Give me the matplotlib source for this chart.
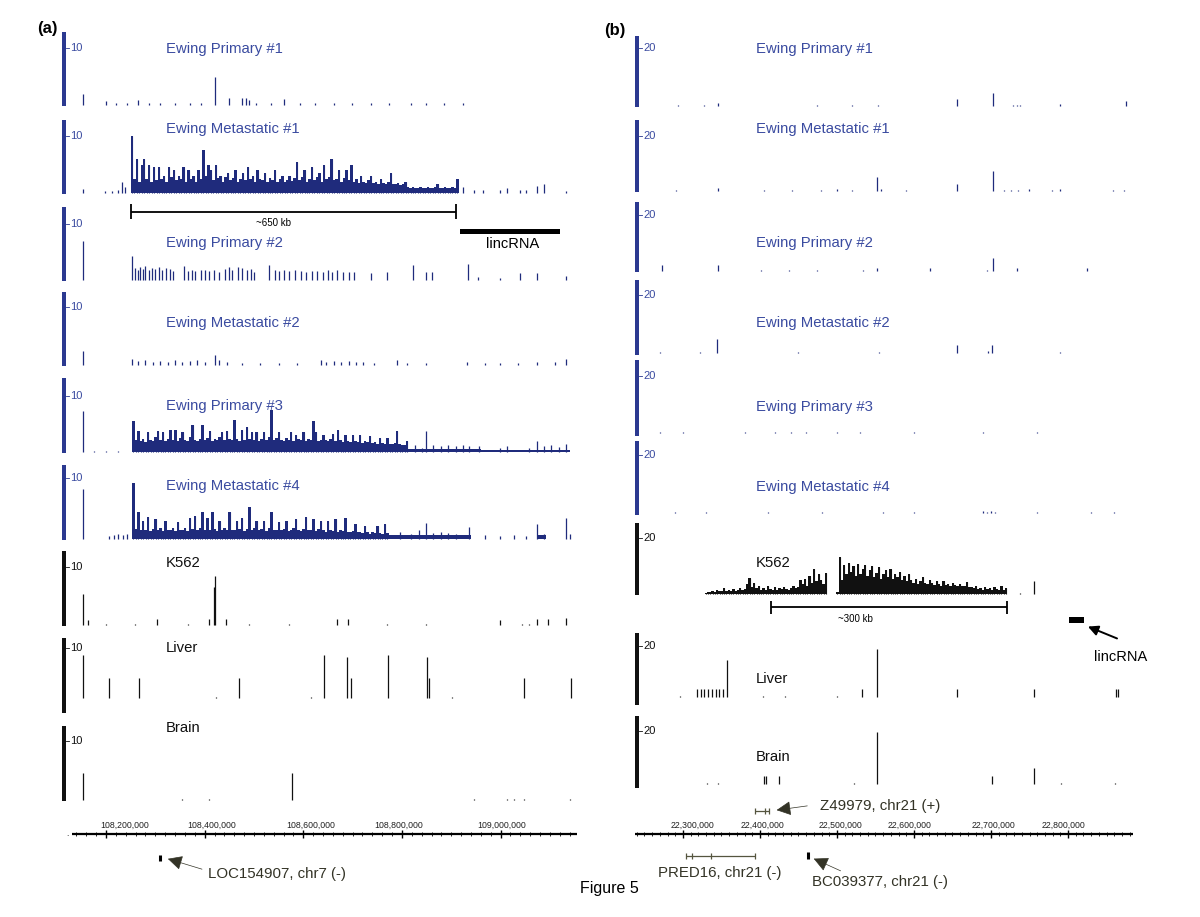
import matplotlib
matplotlib.use('Agg')
import matplotlib.pyplot as plt
from matplotlib.patches import Rectangle
import numpy as np

plt.rcParams['font.family'] = ['Liberation Sans', 'DejaVu Sans']

# ---------------- DATA (genomic positions in kb, signal heights) ----------------
# Panel (a): chr7 window
L_RANGE = (108131.0, 109155.0)
L_MAJOR = [108200, 108400, 108600, 108800, 109000]
L_MAJOR_LABELS = ['108,200,000', '108,400,000', '108,600,000', '108,800,000', '109,000,000']
# Panel (b): chr21 window
R_RANGE = (22237.7, 22884.4)
R_MAJOR = [22300, 22400, 22500, 22600, 22700, 22800]
R_MAJOR_LABELS = ['22,300,000', '22,400,000', '22,500,000', '22,600,000', '22,700,000', '22,800,000']

TRACK_NAMES = ['Ewing Primary #1', 'Ewing Metastatic #1', 'Ewing Primary #2',
               'Ewing Metastatic #2', 'Ewing Primary #3', 'Ewing Metastatic #4',
               'K562', 'Liver', 'Brain']

# ---- panel (a) ----
EP1_L_POS = [108153, 108200, 108220, 108243, 108264, 108288, 108310, 108340, 108370, 108393,
             108420, 108449, 108475, 108484, 108490, 108505, 108535, 108561, 108594, 108624,
             108662, 108699, 108737, 108774, 108819, 108849, 108886, 108924]
EP1_L_H = [1.9, 0.7, 0.3, 0.3, 0.9, 0.3, 0.3, 0.3, 0.3, 0.3,
           5.0, 1.2, 1.2, 1.2, 0.8, 0.3, 0.3, 1.1, 0.3, 0.3,
           0.3, 0.3, 0.3, 0.3, 0.3, 0.3, 0.3, 0.3]

EM1_L_POS = [108153, 108198, 108213, 108225, 108232, 108239, 108924, 108946, 108965, 108998,
             109013, 109040, 109051, 109073, 109088, 109133]
EM1_L_H = [0.7, 0.3, 0.4, 0.5, 1.9, 1.0, 1.0, 0.5, 0.6, 0.5, 0.8, 0.6, 0.5, 1.3, 1.5, 0.3]
EM1_L_DENSE_START = 108250.0
EM1_L_DENSE_BIN = 5.0
EM1_L_DENSE = [10, 2.5, 6, 2, 5, 6, 2.5, 5, 2, 4.5,
               2.2, 4.5, 2.5, 3, 2, 4.5, 2.8, 4, 2.2, 3,
               2.5, 4.5, 2, 4, 2.4, 3, 2, 4, 2.5, 7.5,
               3, 5, 4, 2.2, 5, 2.6, 3, 2, 2.8, 3.5,
               2.2, 2.6, 4, 2, 2.5, 3.5, 2.2, 4.5, 2.4, 3,
               2, 4, 2.5, 2.2, 3.5, 2, 2.6, 2.2, 4, 2,
               2.4, 3, 2, 2.3, 3, 2.1, 2.6, 5.5, 2.2, 2.8,
               4, 2, 2.5, 4.5, 2.2, 2.8, 3.5, 2, 5, 2.4,
               2.8, 6, 2.2, 2.5, 4, 2, 2.6, 4, 2.2, 5,
               2, 2.4, 1.8, 3, 2, 1.8, 2.2, 3, 1.8, 2,
               1.6, 2.5, 1.8, 1.5, 2, 3.5, 1.6, 1.5, 1.8, 1.4,
               1.5, 2, 1, 0.8, 1, 0.9, 0.8, 1, 0.9, 0.8,
               1, 0.8, 0.9, 1, 1.5, 0.8, 0.9, 1, 0.8, 0.9,
               1, 0.8, 2.5]

EP2_L_POS = [108153, 108253, 108258, 108264, 108269, 108275, 108280, 108288, 108294, 108299,
             108307, 108314, 108322, 108329, 108336, 108359, 108366, 108374, 108381, 108393,
             108400, 108408, 108419, 108430, 108441, 108449, 108456, 108467, 108475, 108486,
             108494, 108501, 108531, 108542, 108550, 108561, 108572, 108583, 108595, 108606,
             108617, 108628, 108639, 108651, 108658, 108669, 108681, 108692, 108703, 108737,
             108770, 108823, 108849, 108860, 108933, 108954, 108998, 109040, 109073, 109133]
EP2_L_H = [6.9, 4.2, 2.2, 1.8, 2.3, 2.0, 2.5, 1.8, 2.2, 2.0,
           2.4, 1.8, 2.2, 2.0, 1.6, 2.5, 1.6, 1.8, 1.6, 1.7,
           1.8, 1.6, 1.8, 1.5, 2.0, 2.3, 1.8, 2.4, 2.2, 1.8,
           1.9, 1.5, 2.6, 1.8, 1.6, 1.7, 1.6, 1.8, 1.6, 1.5,
           1.6, 1.6, 1.5, 1.7, 1.4, 1.7, 1.5, 1.5, 1.4, 1.3,
           1.4, 2.6, 1.5, 1.4, 2.8, 0.6, 0.4, 1.2, 1.2, 0.8]

EM2_L_POS = [108153, 108253, 108265, 108280, 108295, 108310, 108325, 108340, 108355, 108370,
             108385, 108400, 108420, 108430, 108445, 108475, 108512, 108550, 108587, 108636,
             108647, 108662, 108677, 108692, 108707, 108722, 108744, 108789, 108811, 108849,
             108931, 108968, 108998, 109036, 109073, 109111, 109133]
EM2_L_H = [2.5, 1.0, 0.7, 0.8, 0.6, 0.7, 0.6, 0.8, 0.6, 0.7,
           0.9, 0.6, 1.8, 0.9, 0.6, 0.4, 0.4, 0.4, 0.4, 0.8,
           0.6, 0.7, 0.6, 0.7, 0.6, 0.6, 0.4, 0.8, 0.4, 0.4,
           0.5, 0.4, 0.4, 0.4, 0.5, 0.5, 1.1]

EP3_L_POS = [108153, 108175, 108200, 108225, 108826, 108841, 108849, 108864, 108879, 108894,
             108909, 108924, 108935, 108957, 108998, 109013, 109058, 109073, 109088, 109103,
             109118, 109133]
EP3_L_H = [7.4, 0.2, 0.2, 0.2, 1.2, 0.8, 3.8, 1.2, 1.0, 1.2,
           1.0, 1.3, 1.0, 1.1, 0.8, 1.0, 0.8, 2.0, 1.0, 1.2,
           0.9, 1.4]
EP3_L_DENSE_START = 108253.0
EP3_L_DENSE_BIN = 5.0
EP3_L_DENSE = [5.6, 2.2, 3.8, 2, 2.4, 1.8, 3.6, 2.2, 2, 2.6,
               3.8, 2.2, 3.6, 2, 2.4, 4, 2.2, 3.9, 2, 2.5,
               3.6, 2.2, 2, 2.6, 4.8, 2.2, 2, 2.4, 4.8, 2.2,
               2.5, 3.7, 2, 2.4, 2.2, 2.6, 3.6, 2.2, 3.8, 2.4,
               2.2, 5.7, 2.4, 2, 4, 2.2, 4.5, 2.4, 3.5, 2.2,
               3.5, 2, 2.4, 3.5, 2.2, 2.6, 7.5, 2.2, 2.5, 3.5,
               2.2, 2, 2.5, 2.2, 3.5, 2, 3, 2.4, 2.2, 3.5,
               2, 2.4, 2.2, 5.6, 3.5, 2, 2.2, 3, 2.2, 2,
               2.4, 3.2, 2, 4, 2.2, 1.8, 3, 2, 1.8, 3,
               2, 1.8, 3, 1.6, 2, 1.8, 2.8, 1.6, 1.8, 1.5,
               2.5, 1.6, 1.4, 2.5, 1.5, 1.4, 1.6, 3.8, 1.4, 1.2,
               1.2, 2]
EP3_L_FILL = [(108811, 108960, 0.6), (108960, 109140, 0.35)]

EM4_L_POS = [108153, 108206, 108217, 108224, 108235, 108243, 108796, 108819, 108834, 108849,
             108864, 108879, 108894, 108909, 108935, 108968, 108998, 109028, 109051, 109073,
             109088, 109133, 109141]
EM4_L_H = [8.2, 0.5, 0.6, 0.8, 0.7, 0.8, 1.2, 0.9, 1.5, 2.6,
           1.0, 1.2, 1.0, 0.8, 2.0, 0.6, 0.5, 0.6, 0.5, 2.5,
           0.8, 3.5, 0.8]
EM4_L_DENSE_START = 108253.0
EM4_L_DENSE_BIN = 5.0
EM4_L_DENSE = [9.1, 1.6, 4.4, 1.4, 3, 1.5, 3.6, 1.3, 1.6, 3.2,
               1.4, 1.8, 1.3, 3, 1.5, 1.4, 1.8, 1.3, 2.8, 1.5,
               1.4, 1.8, 1.3, 3.5, 1.6, 3.8, 1.4, 1.8, 4.4, 1.5,
               3.5, 1.4, 4.4, 1.6, 1.3, 3, 1.5, 1.8, 1.4, 4.4,
               1.5, 1.4, 3, 1.6, 3.4, 1.3, 1.6, 5.3, 1.4, 1.8,
               3, 1.4, 1.6, 3, 1.3, 1.8, 4.4, 1.4, 1.5, 2.8,
               1.4, 1.6, 3, 1.3, 1.5, 1.8, 3.2, 1.4, 1.3, 1.6,
               3.6, 1.4, 1.5, 3.2, 1.3, 1.6, 3, 1.4, 1.2, 3,
               1.4, 1.3, 3.2, 1.2, 1.5, 1.3, 3.4, 1.2, 1.1, 1.3,
               2.5, 1.1, 1.2, 1, 2.2, 1.1, 0.9, 1.2, 1, 2.2,
               1, 0.9, 2.5, 1]
EM4_L_FILL = [(108773, 108940, 0.6), (109073, 109092, 0.6)]

K562_L_POS = [108153, 108164, 108200, 108258, 108304, 108366, 108409, 108418, 108420, 108443,
              108490, 108572, 108668, 108690, 108770, 108849, 108999, 109043, 109058, 109073,
              109096, 109132]
K562_L_H = [5.4, 0.8, 0.2, 0.2, 1.0, 0.2, 1.0, 6.5, 8.5, 1.0,
            0.2, 0.2, 1.1, 1.1, 0.2, 0.2, 0.9, 0.2, 0.2, 1.0,
            1.1, 1.2]

LIVER_L_POS = [108153, 108206, 108267, 108422, 108470, 108615, 108642, 108688, 108697, 108771,
               108850, 108854, 108901, 109048, 109142]
LIVER_L_H = [8.7, 4.0, 4.0, 0.2, 4.0, 0.2, 8.7, 8.2, 4.0, 8.7, 8.2, 4.0, 0.2, 4.0, 4.0]

BRAIN_L_POS = [108153, 108355, 108408, 108578, 108946, 109013, 109028, 109047, 109141]
BRAIN_L_H = [4.5, 0.2, 0.2, 4.5, 0.2, 0.2, 0.2, 0.2, 0.2]

# ---- panel (b) ----
EP1_R_POS = [22293.2, 22326.9, 22345.2, 22473.6, 22519.3, 22553.0, 22656.4, 22702.1, 22728.5,
             22733.3, 22738.1, 22790.1, 22875.2]
EP1_R_H = [0.3, 0.3, 0.9, 0.3, 0.3, 0.4, 2.4, 4.4, 0.5, 0.5, 0.5, 0.6, 1.7]

EM1_R_POS = [22290.8, 22345.2, 22405.3, 22441.4, 22478.9, 22500.0, 22519.3, 22552.0, 22557.8,
             22589.0, 22656.4, 22702.1, 22716.5, 22726.1, 22735.7, 22748.7, 22779.0, 22790.1,
             22858.4, 22872.8]
EM1_R_H = [0.2, 1.2, 0.3, 0.3, 0.3, 0.8, 0.3, 5.1, 0.6, 0.3, 2.7, 7.3, 0.3, 0.3, 0.3, 0.8,
           0.5, 0.8, 0.3, 0.3]

EP2_R_POS = [22273.0, 22345.2, 22401.4, 22437.5, 22473.6, 22533.7, 22552.0, 22620.3, 22694.8,
             22702.1, 22733.3, 22824.7]
EP2_R_H = [2.1, 2.1, 0.2, 0.2, 0.2, 0.2, 1.2, 1.2, 0.5, 4.7, 1.2, 1.2]

EM2_R_POS = [22270.0, 22322.0, 22344.2, 22450.0, 22555.0, 22655.9, 22696.1, 22701.3, 22790.0]
EM2_R_H = [0.2, 0.2, 4.8, 0.2, 0.2, 2.8, 0.6, 2.8, 0.2]

EP3_R_POS = [22270, 22300, 22380, 22420, 22440, 22460, 22500, 22530, 22600, 22690, 22760]
EP3_R_H = [0.3, 0.3, 0.3, 0.3, 0.3, 0.3, 0.3, 0.3, 0.3, 0.3, 0.3]

EM4_R_POS = [22290, 22330, 22410, 22480, 22560, 22600, 22690, 22695, 22700, 22705, 22760,
             22830, 22860]
EM4_R_H = [0.3, 0.3, 0.3, 0.3, 0.3, 0.3, 0.6, 0.5, 0.6, 0.4, 0.3, 0.3, 0.3]

K562_R_POS = [22737.2, 22756.4]
K562_R_H = [0.5, 4.8]
K562_R_DENSE_START = 22328.0
K562_R_DENSE_BIN = 3.0
K562_R_DENSE = [0.5, 0.8, 0.6, 1.2, 0.8, 1.5, 1, 1.2, 2, 1.1,
                1.4, 1, 1.8, 1.2, 1.5, 2.2, 1.3, 1.8, 3.5, 5.7,
                2.5, 3.8, 2, 3, 1.6, 2.2, 1.5, 2.8, 1.8, 1.6,
                2.4, 1.5, 2, 1.7, 2.6, 1.8, 1.5, 2.2, 3, 2,
                2.5, 5, 3.5, 5.2, 3, 6.5, 4, 8.9, 4.5, 7,
                5, 3.5, 7.5, 0, 0, 0, 0, 0.8, 13.2, 5,
                10.5, 7, 11, 8, 10, 6.5, 10.8, 7, 9, 10.2,
                6.5, 8.5, 10, 6, 7.5, 9.5, 5.5, 7, 8.5, 6,
                9, 5.5, 7, 6, 8, 5, 6.5, 4.5, 7, 5,
                4, 5.5, 3.5, 4.5, 6, 4, 3.5, 5, 4, 3.2,
                4.5, 3.5, 3, 4.8, 3.2, 3.5, 3, 4, 3.2, 2.8,
                3.5, 2.8, 3, 4.2, 2.6, 2.5, 2, 2.7, 1.8, 2.2,
                1.6, 2.5, 1.8, 2, 1.5, 2.4, 1.7, 1.6, 2.7, 1.5,
                2.2]

LIVER_R_POS = [22296.0, 22318.2, 22323.0, 22327.8, 22332.7, 22337.5, 22342.3, 22347.1, 22351.9,
               22357.2, 22404.0, 22433.0, 22500.0, 22532.7, 22552.0, 22655.4, 22756.4, 22861.8,
               22864.6]
LIVER_R_H = [0.2, 3.0, 3.0, 3.0, 3.0, 3.0, 3.0, 3.0, 3.0, 14.4, 0.2, 0.2, 0.2, 3.0, 19.0, 3.0,
             3.0, 3.0, 3.0]

BRAIN_R_POS = [22331.7, 22346.1, 22405.3, 22407.7, 22424.5, 22521.7, 22552.0, 22701.1, 22756.4,
               22791.0, 22860.8]
BRAIN_R_H = [0.2, 0.2, 3.2, 3.2, 3.2, 0.2, 19.7, 3.2, 6.0, 0.2, 0.2]

# annotations (kb)
L_RULER = (108250, 108909)
L_LINCRNA = (108918, 109120)
R_RULER = (22414.3, 22720.4)
R_LINCRNA = (22801.3, 22820.8)
LOC154907_POS = 108310
Z49979_SPAN = (22393.3, 22411.1)
PRED16_SPAN = (22304.0, 22393.6)
PRED16_EXONS = [22304.0, 22311.6, 22336.5, 22393.6]
BC039377_POS = 22462.4

# ---------------- LAYOUT / STYLE ----------------
W, H = 1200, 917
fig = plt.figure(figsize=(12, 9.17), dpi=100)
fig.patch.set_facecolor('white')

BLUE_BAR = '#2B3990'
BLUE_SIG = '#1F2B7C'
BLUE_TXT = '#3A4BA0'
BLACK = '#111111'
ANN = '#333326'

# (top, bottom, baseline, tick-px, label-y) in figure pixels
L_ROWS = [(32, 106, 105, 48, 49), (120, 194, 193, 136, 129), (207, 281, 280, 224, 243),
          (292, 366, 365, 307, 323), (378, 453, 452, 396, 406), (465, 540, 539, 478, 486),
          (551, 626, 625, 567, 563), (638, 713, 698, 648, 648), (726, 801, 800, 741, 728)]
R_ROWS = [(36, 107, 106, 48, 49), (120, 192, 191, 136, 129), (202, 272, 271, 215, 243),
          (280, 355, 353, 295, 323), (360, 436, 433, 376, 407), (441, 515, 513, 455, 487),
          (523, 595, 594, 538, 563), (633, 705, 697, 646, 679), (716, 788, 784, 731, 757)]
# pixel centres of the coordinate labels (as placed in the original figure)
L_LABEL_PX = [125, 212, 311, 399, 502]
R_LABEL_PX = [692, 762, 840, 910, 993, 1063]

L_SPIKES = [(EP1_L_POS, EP1_L_H), (EM1_L_POS, EM1_L_H), (EP2_L_POS, EP2_L_H),
            (EM2_L_POS, EM2_L_H), (EP3_L_POS, EP3_L_H), (EM4_L_POS, EM4_L_H),
            (K562_L_POS, K562_L_H), (LIVER_L_POS, LIVER_L_H), (BRAIN_L_POS, BRAIN_L_H)]
R_SPIKES = [(EP1_R_POS, EP1_R_H), (EM1_R_POS, EM1_R_H), (EP2_R_POS, EP2_R_H),
            (EM2_R_POS, EM2_R_H), (EP3_R_POS, EP3_R_H), (EM4_R_POS, EM4_R_H),
            (K562_R_POS, K562_R_H), (LIVER_R_POS, LIVER_R_H), (BRAIN_R_POS, BRAIN_R_H)]
L_DENSE = {1: (EM1_L_DENSE_START, EM1_L_DENSE_BIN, EM1_L_DENSE),
           4: (EP3_L_DENSE_START, EP3_L_DENSE_BIN, EP3_L_DENSE),
           5: (EM4_L_DENSE_START, EM4_L_DENSE_BIN, EM4_L_DENSE)}
R_DENSE = {6: (K562_R_DENSE_START, K562_R_DENSE_BIN, K562_R_DENSE)}
L_FILL = {4: EP3_L_FILL, 5: EM4_L_FILL}
R_FILL = {}


def fpx(x, y):
    return x / W, 1 - y / H


def draw_panel(x0, x1, xr, rows, spikes, dense, fills, bar_x, tickval, label_x, tick_text):
    for i, (top, bottom, base, tpx, ly) in enumerate(rows):
        col_sig = BLUE_SIG if i < 6 else BLACK
        col_bar = BLUE_BAR if i < 6 else BLACK
        col_txt = BLUE_TXT if i < 6 else BLACK
        ax = fig.add_axes([x0 / W, 1 - bottom / H, (x1 - x0) / W, (bottom - top) / H])
        ax.set_xlim(*xr)
        u = tickval / (base - tpx)
        ax.set_ylim(-(bottom - base) * u, (base - top) * u)
        ax.axis('off')
        pos, h = spikes[i]
        ax.vlines(pos, 0, h, colors=col_sig, lw=0.9)
        if i in fills:
            for s, e, v in fills[i]:
                ax.bar(s, v, width=e - s, align='edge', color=col_sig, lw=0)
        if i in dense:
            s, b, vals = dense[i]
            xs = s + b * np.arange(len(vals))
            ax.bar(xs, vals, width=b, align='edge', color=col_sig, lw=0)
            ax.vlines(xs + b / 2, 0, vals, colors=col_sig, lw=0.8)
        # vertical scale bar
        fig.add_artist(Rectangle(fpx(bar_x, bottom), 4 / W, (bottom - top) / H,
                                 transform=fig.transFigure, color=col_bar, lw=0))
        fig.add_artist(plt.Line2D([(bar_x + 4) / W, (bar_x + 7) / W], [1 - tpx / H] * 2,
                                  transform=fig.transFigure, color=col_bar, lw=0.6))
        fig.text((bar_x + 8) / W, 1 - tpx / H, tick_text, fontsize=8,
                 color=col_txt, va='center', ha='left')
        fig.text(label_x / W, 1 - ly / H, TRACK_NAMES[i], fontsize=10.7,
                 color=col_txt, va='center', ha='left')


draw_panel(72, 577, L_RANGE, L_ROWS, L_SPIKES, L_DENSE, L_FILL, 62, 10, 166, '10')
draw_panel(635, 1133, R_RANGE, R_ROWS, R_SPIKES, R_DENSE, R_FILL, 635, 20, 756, '20')


def overlay(x0, x1, xr):
    ov = fig.add_axes([x0 / W, 0, (x1 - x0) / W, 1])
    ov.set_xlim(*xr)
    ov.set_ylim(H, 0)
    ov.axis('off')
    ov.patch.set_alpha(0)
    return ov


def ruler_axis(ov, xr, majors, labels, label_px, minor_step, y=834):
    ov.hlines(y, xr[0], xr[1], color='black', lw=1.6)
    minors = np.arange(np.ceil(xr[0] / minor_step) * minor_step, xr[1], minor_step)
    ov.vlines(minors, y - 2, y + 2, color='black', lw=0.6)
    ov.vlines(majors, y - 4, y + 4, color='black', lw=1.0)
    for lp, lab in zip(label_px, labels):
        fig.text(lp / W, 1 - (y - 9) / H, lab, fontsize=6.3, ha='center', va='center',
                 color='#222222')


ovL = overlay(72, 577, L_RANGE)
ovR = overlay(635, 1133, R_RANGE)
ruler_axis(ovL, L_RANGE, L_MAJOR, L_MAJOR_LABELS, L_LABEL_PX, 20)
ruler_axis(ovR, R_RANGE, R_MAJOR, R_MAJOR_LABELS, R_LABEL_PX, 10)
fig.text(67 / W, 1 - 834 / H, '.', fontsize=6, ha='center', va='center')

# panel (a) scale bar + lincRNA
ovL.hlines(211.5, L_RULER[0], L_RULER[1], color='black', lw=1.3)
ovL.vlines(list(L_RULER), 204, 219, color='black', lw=1.3)
fig.text(273 / W, 1 - 222.5 / H, '~650 kb', fontsize=7, ha='center', va='center')
ovL.add_patch(Rectangle((L_LINCRNA[0], 228.7), L_LINCRNA[1] - L_LINCRNA[0], 5.5,
                        color='black', lw=0))
fig.text(513 / W, 1 - 244.5 / H, 'lincRNA', fontsize=10.5, ha='center', va='center')

# panel (b) scale bar + lincRNA
ovR.hlines(607.3, R_RULER[0], R_RULER[1], color='black', lw=1.3)
ovR.vlines(list(R_RULER), 600.5, 614, color='black', lw=1.3)
fig.text(855 / W, 1 - 619 / H, '~300 kb', fontsize=7, ha='center', va='center')
ovR.add_patch(Rectangle((R_LINCRNA[0], 617), R_LINCRNA[1] - R_LINCRNA[0], 5.5,
                        color='black', lw=0))
ovR.annotate('', xy=(22822.5, 625.5), xytext=(22867, 639.5),
             arrowprops=dict(arrowstyle='-|>,head_length=0.6,head_width=0.3',
                             color='black', lw=1.4))
fig.text(1121 / W, 1 - 657 / H, 'lincRNA', fontsize=10.5, ha='center', va='center')

# gene annotations
ovL.vlines([LOC154907_POS], 854.5, 861, color='black', lw=2.2)
ovL.annotate('', xy=(108320, 858), xytext=(108400, 870),
             arrowprops=dict(arrowstyle='-|>,head_length=0.9,head_width=0.45',
                             color=ANN, lw=0.5))
fig.text(208 / W, 1 - 874 / H, 'LOC154907, chr7 (-)', fontsize=10.8, color=ANN,
         ha='left', va='center')

ovR.hlines(810.7, Z49979_SPAN[0], Z49979_SPAN[1], color='#55553f', lw=0.9)
ovR.vlines([Z49979_SPAN[0], 22407.0, Z49979_SPAN[1]], 807.5, 814, color='#55553f', lw=0.9)
ovR.annotate('', xy=(22418.0, 810.5), xytext=(22465.0, 805.5),
             arrowprops=dict(arrowstyle='-|>,head_length=0.9,head_width=0.45',
                             color=ANN, lw=0.5))
fig.text(820 / W, 1 - 806 / H, 'Z49979, chr21 (+)', fontsize=10.8, color=ANN,
         ha='left', va='center')

ovR.hlines(855.7, PRED16_SPAN[0], PRED16_SPAN[1], color='#55553f', lw=0.9)
ovR.vlines(PRED16_EXONS, 852.5, 859, color='#55553f', lw=0.9)
fig.text(720 / W, 1 - 873.5 / H, 'PRED16, chr21 (-)', fontsize=10.8, color=ANN,
         ha='center', va='center')

ovR.vlines([BC039377_POS], 852, 858.5, color='black', lw=2.2)
ovR.annotate('', xy=(22466.5, 857.5), xytext=(22508, 872),
             arrowprops=dict(arrowstyle='-|>,head_length=0.9,head_width=0.45',
                             color=ANN, lw=0.5))
fig.text(812 / W, 1 - 882 / H, 'BC039377, chr21 (-)', fontsize=10.8, color=ANN,
         ha='left', va='center')

# panel letters and caption
fig.text(37 / W, 1 - 28 / H, '(a)', fontsize=12, fontweight='bold', ha='left', va='center')
fig.text(604 / W, 1 - 30 / H, '(b)', fontsize=12, fontweight='bold', ha='left', va='center')
fig.text(580 / W, 1 - 888 / H, 'Figure 5', fontsize=11.5, ha='left', va='center')

fig.savefig('out.png', dpi=100, facecolor='white')
